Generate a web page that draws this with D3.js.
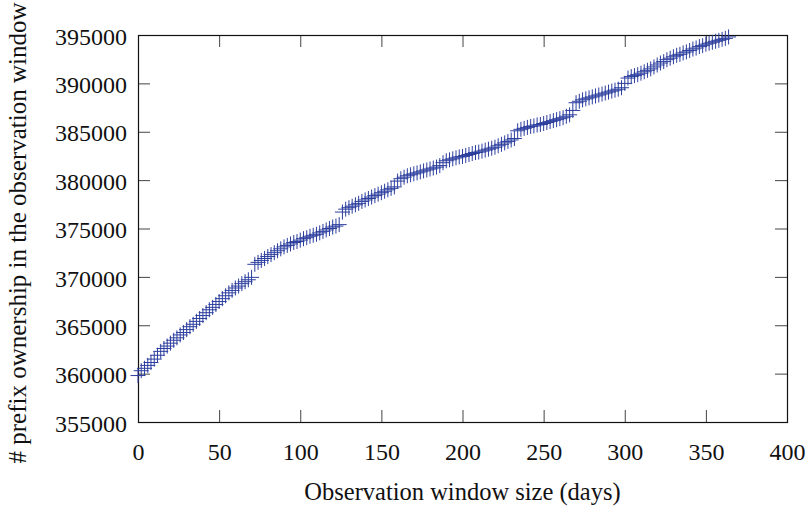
<!DOCTYPE html>
<html>
<head>
<meta charset="utf-8">
<script src="https://cdn.jsdelivr.net/npm/d3@7"></script>
<style>
  body { margin: 0; background: #fff; }
  text { font-family: "Liberation Serif", "Times New Roman", serif; }
</style>
</head>
<body>
<div id="chart"></div>
<script>
// observation window size, every second day
var days = d3.range(0, 366, 2);

// prefix ownership count for each window size
var counts = [
  359800, 360300, 360550, 360850, 361150, 361500, 361900, 362300,
  362600, 362850, 363150, 363450, 363700, 364000, 364250, 364550,
  364850, 365100, 365400, 365700, 366000, 366300, 366600, 366850,
  367150, 367450, 367750, 368050, 368350, 368600, 368850, 369050,
  369300, 369500, 369700, 369950, 371300, 371500, 371700, 371900,
  372100, 372300, 372500, 372700, 372900, 373100, 373250, 373400,
  373550, 373650, 373800, 373950, 374050, 374200, 374300, 374400,
  374550, 374700, 374850, 375000, 375150, 375250, 375400, 376700,
  377000, 377150, 377300, 377450, 377600, 377800, 377950, 378100,
  378250, 378400, 378550, 378700, 378850, 379000, 379150, 379300,
  379900, 380150, 380300, 380450, 380550, 380650, 380750, 380850,
  380950, 381050, 381150, 381250, 381350, 381500, 381800, 382000,
  382100, 382200, 382300, 382400, 382450, 382550, 382650, 382750,
  382850, 382900, 383000, 383100, 383200, 383300, 383400, 383550,
  383700, 383850, 384000, 384150, 384300, 385100, 385250, 385350,
  385450, 385550, 385600, 385700, 385750, 385850, 385950, 386050,
  386150, 386250, 386350, 386450, 386600, 386750, 387200, 388000,
  388150, 388300, 388400, 388500, 388600, 388700, 388800, 388900,
  389000, 389100, 389200, 389300, 389400, 389550, 390000, 390550,
  390700, 390800, 390900, 391050, 391200, 391350, 391500, 391700,
  391900, 392100, 392250, 392450, 392600, 392750, 392900, 393000,
  393150, 393250, 393400, 393550, 393650, 393800, 393900, 394050,
  394150, 394250, 394350, 394450, 394550, 394650, 394800
];

var xTicks = [0, 50, 100, 150, 200, 250, 300, 350, 400];
var yTicks = [355000, 360000, 365000, 370000, 375000, 380000, 385000, 390000, 395000];

var points = days.map(function(d, i) { return {day: d, count: counts[i]}; });

var margin = {top: 35, right: 25, bottom: 85, left: 138};
var width = 812 - margin.left - margin.right,
    height = 507 - margin.top - margin.bottom;

var svg = d3.select('#chart').append('svg')
    .attr('width', 812)
    .attr('height', 507);

var g = svg.append('g')
    .attr('transform', 'translate(' + margin.left + ',' + margin.top + ')');

var x = d3.scaleLinear().domain([0, 400]).range([0, width]);
var y = d3.scaleLinear().domain([355000, 395000]).range([height, 0]);

// ticks point inwards on all four sides
var xAxis = g.append('g')
    .attr('transform', 'translate(0,' + height + ')')
    .call(d3.axisBottom(x).tickValues(xTicks).tickSize(-12).tickSizeOuter(0).tickPadding(21));
var xTop = g.append('g')
    .call(d3.axisTop(x).tickValues(xTicks).tickSize(-12).tickSizeOuter(0).tickFormat(''));
var yAxis = g.append('g')
    .call(d3.axisLeft(y).tickValues(yTicks).tickFormat(d3.format('d'))
      .tickSize(-12).tickSizeOuter(0).tickPadding(11));
var yRight = g.append('g')
    .attr('transform', 'translate(' + width + ',0)')
    .call(d3.axisRight(y).tickValues(yTicks).tickSize(-12).tickSizeOuter(0).tickFormat(''));

[xAxis, xTop, yAxis, yRight].forEach(function(a) {
  a.select('.domain').remove();
  a.selectAll('.tick line').attr('stroke', '#444');
  a.selectAll('text')
    .attr('font-family', '"Liberation Serif", serif')
    .attr('font-size', 24)
    .attr('fill', '#111');
});
yAxis.selectAll('text').attr('dy', '0.38em');

g.append('rect')
    .attr('x', 0.5).attr('y', 0.5)
    .attr('width', width).attr('height', height)
    .attr('fill', 'none')
    .attr('stroke', '#111')
    .attr('stroke-width', 1.2);

g.append('g').selectAll('path')
    .data(points)
  .enter().append('path')
    .attr('transform', function(d) { return 'translate(' + x(d.day) + ',' + y(d.count) + ')'; })
    .attr('d', 'M-7.5,0H7.5M0,-7.5V7.5')
    .attr('fill', 'none')
    .attr('stroke', '#2c3e9e')
    .attr('stroke-width', 1);

svg.append('text')
    .attr('x', margin.left + width / 2)
    .attr('y', 500)
    .attr('text-anchor', 'middle')
    .attr('font-size', 24.5)
    .attr('fill', '#111')
    .text('Observation window size (days)');

svg.append('text')
    .attr('transform', 'translate(26,233) rotate(-90)')
    .attr('text-anchor', 'middle')
    .attr('font-size', 25)
    .attr('fill', '#111')
    .text('# prefix ownership in the observation window');
</script>
</body>
</html>
